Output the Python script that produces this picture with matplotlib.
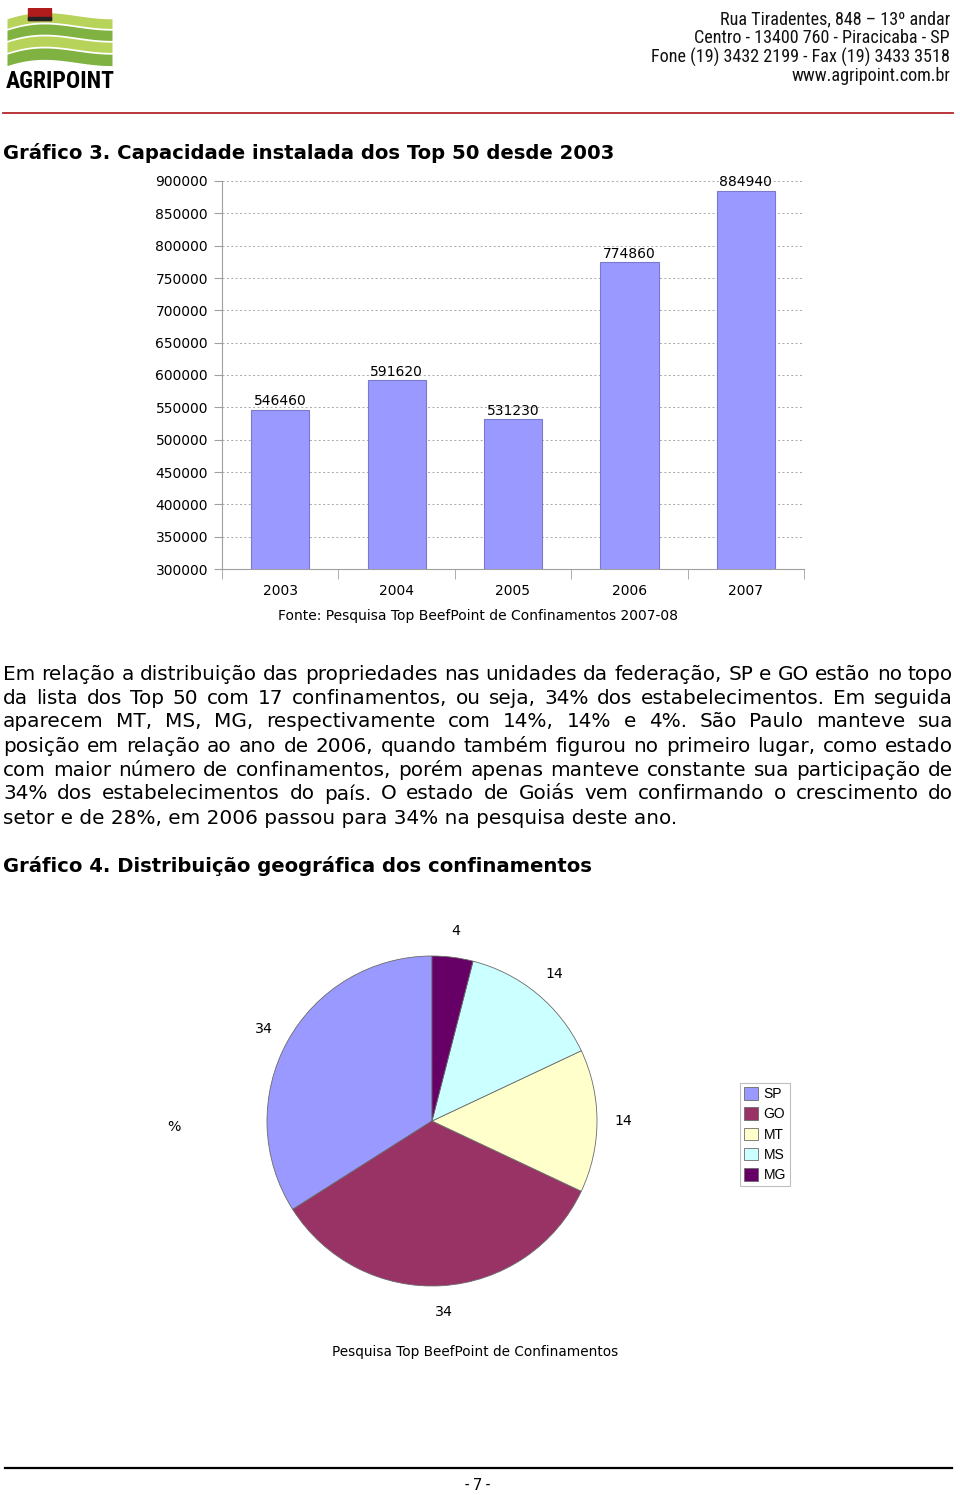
import numpy as np
import matplotlib
matplotlib.use("Agg")
import matplotlib.pyplot as plt
from matplotlib import font_manager
from matplotlib.patches import Rectangle
from matplotlib.lines import Line2D

# Dados do gráfico 3
anos = ["2003", "2004", "2005", "2006", "2007"]
capacidade = [546460, 591620, 531230, 774860, 884940]
y_ticks = [300000, 350000, 400000, 450000, 500000, 550000, 600000,
           650000, 700000, 750000, 800000, 850000, 900000]

# Dados do gráfico 4
estados = ["SP", "GO", "MT", "MS", "MG"]
participacao = [34, 34, 14, 14, 4]
cores_pizza = ["#9999FF", "#993366", "#FFFFCC", "#CCFFFF", "#660066"]

cabecalho = ["Rua Tiradentes, 848 \u2013 13\u00ba andar",
             "Centro - 13400 760 - Piracicaba - SP",
             "Fone (19) 3432 2199 - Fax (19) 3433 3518",
             "www.agripoint.com.br"]

paragrafo = [
    "Em relação a distribuição das propriedades nas unidades da federação, SP e GO estão no topo",
    "da lista dos Top 50 com 17 confinamentos, ou seja, 34% dos estabelecimentos. Em seguida",
    "aparecem MT, MS, MG, respectivamente com 14%, 14% e 4%. São Paulo manteve sua",
    "posição em relação ao ano de 2006, quando também figurou no primeiro lugar, como estado",
    "com maior número de confinamentos, porém apenas manteve constante sua participação de",
    "34% dos estabelecimentos do país. O estado de Goiás vem confirmando o crescimento do",
    "setor e de 28%, em 2006 passou para 34% na pesquisa deste ano.",
]

W, H = 960, 1495
fig = plt.figure(figsize=(W / 100, H / 100), dpi=100)
fig.patch.set_facecolor("white")

def fx(px):
    return px / W

def fy(py):
    return 1 - py / H

# fonte estreita para o cabeçalho, se existir
disponiveis = {f.name for f in font_manager.fontManager.ttflist}
estreita = "DejaVu Sans"
for nome in ["Liberation Sans Narrow", "DejaVu Sans Condensed", "Roboto Condensed", "Liberation Sans"]:
    if nome in disponiveis:
        estreita = nome
        break

# Cabeçalho
for i, linha in enumerate(cabecalho):
    fig.text(fx(950), fy(19 + 19 * i), linha, ha="right", va="center",
             fontsize=13.1, family=estreita, color="#111111")
fig.add_artist(Line2D([fx(3), fx(953)], [fy(113), fy(113)], color="#b3262e", lw=1.3))

# Logo (aproximado)
ax_logo = fig.add_axes([fx(7), fy(68), fx(105), 60 / H])
ax_logo.set_xlim(0, 1)
ax_logo.set_ylim(0, 1)
ax_logo.axis("off")
xs = np.linspace(0, 1, 50)
faixas = [(0.66, 0.82, "#b7d35a"), (0.46, 0.63, "#7fb241"), (0.26, 0.43, "#b7d35a"), (0.04, 0.23, "#7fb241")]
for b, t, c in faixas:
    curva = 0.18 * np.sin(np.pi * xs)
    ax_logo.fill_between(xs, b + curva * (1 - xs), t + curva * (1 - xs), color=c, lw=0)
ax_logo.add_patch(Rectangle((0.2, 0.8), 0.22, 0.2, color="#b01c1c"))
ax_logo.add_patch(Rectangle((0.2, 0.8), 0.22, 0.05, color="#222222"))
fig.text(fx(6), fy(81), "AGRIPOINT", ha="left", va="center", fontsize=17,
         fontweight="bold", family=estreita, color="black")

# Título gráfico 3
fig.text(fx(3), fy(153), "Gráfico 3. Capacidade instalada dos Top 50 desde 2003",
         ha="left", va="center", fontsize=14.1, fontweight="bold")

# Gráfico de barras
ax = fig.add_axes([fx(222), fy(569), fx(582), 388 / H])
x = np.arange(len(anos))
ax.bar(x, capacidade, width=0.5, color="#9999FF", edgecolor="#7a7acc", lw=0.8, zorder=3)
for xi, v in zip(x, capacidade):
    ax.annotate(str(v), (xi, v), xytext=(0, 1), textcoords="offset points",
                ha="center", va="bottom", fontsize=10)
ax.set_xlim(-0.5, len(anos) - 0.5)
ax.set_ylim(300000, 900000)
ax.set_yticks(y_ticks)
ax.set_yticklabels([str(v) for v in y_ticks])
ax.set_xticks(x)
ax.set_xticklabels(anos)
ax.set_xticks(np.arange(len(anos) + 1) - 0.5, minor=True)
ax.tick_params(axis="x", which="major", length=0, pad=11, labelsize=10)
ax.tick_params(axis="x", which="minor", length=7, color="#a0a0a0", direction="out")
ax.tick_params(axis="y", length=6, color="#a0a0a0", pad=4, labelsize=10)
ax.yaxis.grid(True, linestyle=(0, (2, 2.5)), color="#a8a8a8", lw=0.7, zorder=0)
for s in ["top", "right"]:
    ax.spines[s].set_visible(False)
for s in ["left", "bottom"]:
    ax.spines[s].set_color("#a0a0a0")
fig.text(fx(478), fy(616), "Fonte: Pesquisa Top BeefPoint de Confinamentos 2007-08",
         ha="center", va="center", fontsize=10)

# Parágrafo justificado
renderer = fig.canvas.get_renderer()
tam = 14.4
x0, x1 = 3, 953
for i, linha in enumerate(paragrafo):
    yl = fy(674 + 24 * i)
    if i == len(paragrafo) - 1:
        fig.text(fx(x0), yl, linha, ha="left", va="center", fontsize=tam)
        continue
    palavras = linha.split()
    larguras = []
    for p in palavras:
        t = fig.text(0, 0, p, fontsize=tam)
        larguras.append(t.get_window_extent(renderer).width)
        t.remove()
    espaco = (x1 - x0 - sum(larguras)) / (len(palavras) - 1)
    xp = x0
    for p, lw_ in zip(palavras, larguras):
        fig.text(fx(xp), yl, p, ha="left", va="center", fontsize=tam)
        xp += lw_ + espaco

# Título gráfico 4
fig.text(fx(3), fy(866), "Gráfico 4. Distribuição geográfica dos confinamentos",
         ha="left", va="center", fontsize=14.1, fontweight="bold")

# Gráfico de pizza
r = 165
axp = fig.add_axes([fx(432 - 1.25 * r), fy(1121 + 1.25 * r), fx(2.5 * r), 2.5 * r / H])
wedges, textos = axp.pie(participacao, colors=cores_pizza, startangle=90,
                         labels=[str(v) for v in participacao], labeldistance=1.16,
                         wedgeprops=dict(edgecolor="#6a6a6a", linewidth=0.6),
                         textprops=dict(fontsize=10.2))
for t in textos:
    t.set_ha("center")
    t.set_va("center")
axp.set_xlim(-1.25, 1.25)
axp.set_ylim(-1.25, 1.25)
axp.set_aspect("equal")

fig.text(fx(174), fy(1127), "%", ha="center", va="center", fontsize=10.2)
fig.text(fx(475), fy(1352), "Pesquisa Top BeefPoint de Confinamentos",
         ha="center", va="center", fontsize=9.8)

leg = fig.legend(wedges, estados, loc="upper left",
                 bbox_to_anchor=(fx(740), fy(1083)), frameon=True, fancybox=False,
                 prop=dict(family="Liberation Sans", size=10), handlelength=1.0,
                 handleheight=1.0, handletextpad=0.4, labelspacing=0.45,
                 borderpad=0.3, borderaxespad=0)
leg.get_frame().set_edgecolor("#b0b0b0")
leg.get_frame().set_linewidth(0.8)

# Rodapé
fig.add_artist(Line2D([fx(5), fx(952)], [fy(1468), fy(1468)], color="black", lw=1.6))
fig.text(fx(478), fy(1486), "- 7 -", ha="center", va="center", fontsize=12.5, family=estreita)

fig.savefig("out.png", dpi=100)
